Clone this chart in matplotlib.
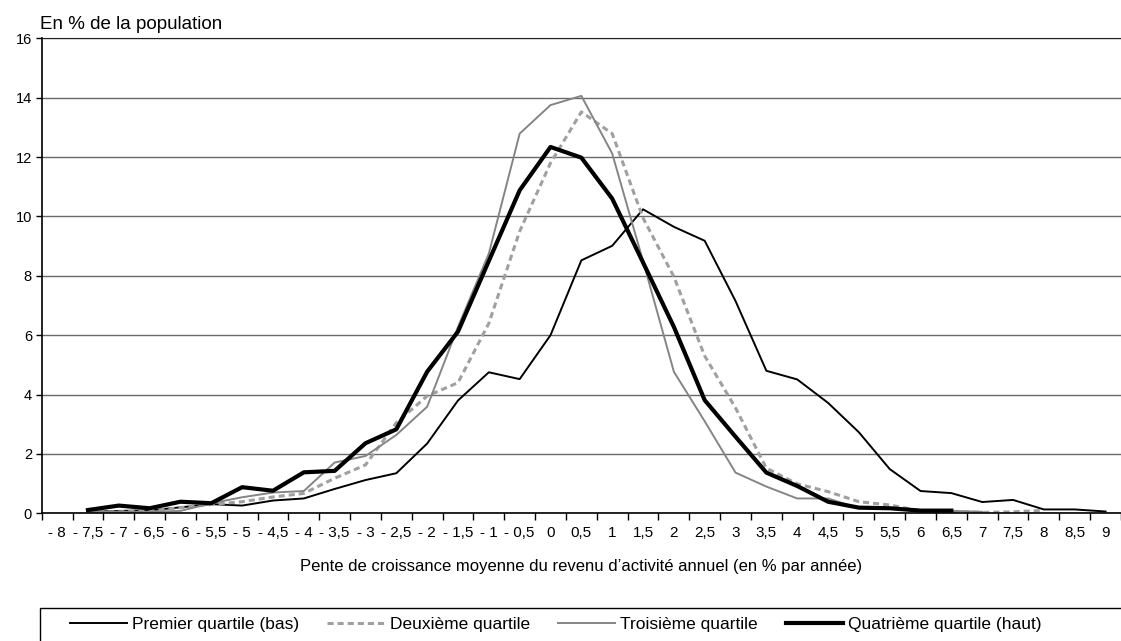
import numpy as np
import matplotlib
matplotlib.use("Agg")
import matplotlib.pyplot as plt
from matplotlib.patches import Rectangle

plt.rcParams['font.family'] = ['Liberation Sans', 'DejaVu Sans']

nan = np.nan
categories = ["- 8", "- 7,5", "- 7", "- 6,5", "- 6", "- 5,5", "- 5", "- 4,5", "- 4", "- 3,5",
              "- 3", "- 2,5", "- 2", "- 1,5", "- 1", "- 0,5", "0", "0,5", "1", "1,5",
              "2", "2,5", "3", "3,5", "4", "4,5", "5", "5,5", "6", "6,5",
              "7", "7,5", "8", "8,5", "9"]

premier = [nan, 0.05, 0.08, 0.10, 0.20, 0.31, 0.26, 0.43, 0.50, 0.82, 1.12, 1.35, 2.35, 3.80,
           4.75, 4.52, 6.00, 8.52, 9.01, 10.24, 9.65, 9.18, 7.15, 4.80, 4.51, 3.72, 2.73,
           1.49, 0.75, 0.68, 0.38, 0.45, 0.13, 0.13, 0.06]
deuxieme = [nan, 0.05, 0.05, 0.08, 0.19, 0.30, 0.39, 0.55, 0.67, 1.18, 1.63, 3.05, 3.95, 4.40,
            6.40, 9.50, 11.80, 13.52, 12.79, 9.95, 7.97, 5.30, 3.55, 1.52, 0.99, 0.73, 0.39,
            0.28, 0.08, 0.06, 0.03, 0.05, 0.10, nan, nan]
troisieme = [nan, 0.05, 0.05, 0.05, 0.08, 0.34, 0.54, 0.70, 0.75, 1.71, 1.93, 2.64, 3.59, 6.28,
             8.75, 12.79, 13.75, 14.06, 12.12, 8.50, 4.77, 3.10, 1.37, 0.90, 0.50, 0.50, 0.17,
             0.17, 0.08, 0.08, 0.05, nan, nan, nan, nan]
quatrieme = [nan, 0.11, 0.26, 0.17, 0.39, 0.34, 0.88, 0.76, 1.38, 1.43, 2.36, 2.83, 4.77, 6.12,
             8.50, 10.88, 12.34, 11.98, 10.60, 8.45, 6.28, 3.81, 2.58, 1.37, 0.92, 0.39, 0.19,
             0.17, 0.09, 0.09, nan, nan, nan, nan, nan]

W, H = 1121, 641
fig = plt.figure(figsize=(W / 100, H / 100), dpi=100)
ax = fig.add_axes([41.7 / W, 1 - 513.3 / H, 1 - 41.7 / W, (513.3 - 38.3) / H])

x = np.arange(len(categories))
ax.plot(x, premier, color='black', lw=1.4, label='Premier quartile (bas)')
ax.plot(x, deuxieme, color='#a0a0a0', lw=2.2, linestyle=(0, (2.0, 1.3)), label='Deuxième quartile')
ax.plot(x, troisieme, color='#858585', lw=1.4, label='Troisième quartile')
ax.plot(x, quatrieme, color='black', lw=3.0, label='Quatrième quartile (haut)')

ax.set_xlim(-0.5, 34.15)
ax.set_ylim(0, 16)
ax.set_yticks(range(0, 17, 2))
ax.tick_params(axis='y', length=4, width=1, labelsize=10.5, pad=3)
ax.yaxis.grid(True, color='#6a6a6a', lw=1)
ax.set_axisbelow(True)

ax.set_xticks(np.arange(-0.5, 35, 1))
ax.set_xticklabels([])
ax.set_xticks(x, minor=True)
ax.set_xticklabels(categories, minor=True)
ax.tick_params(axis='x', which='major', length=5, width=1)
ax.tick_params(axis='x', which='minor', length=0, labelsize=11, pad=9)

ax.spines['right'].set_visible(False)
ax.spines['top'].set_color('#222222')
for s in ['left', 'bottom']:
    ax.spines[s].set_linewidth(1.2)

fig.text(40.5 / W, 1 - 29 / H, "En % de la population", fontsize=13.5, va='baseline', ha='left')
fig.text(581 / W, 1 - 566 / H,
         "Pente de croissance moyenne du revenu d\u2019activité annuel (en % par année)",
         fontsize=12, ha='center', va='center')

fig.add_artist(Rectangle((40 / W, -0.05), 1.0, 0.05 + 1 - 607.7 / H, transform=fig.transFigure,
                         fill=False, edgecolor='black', lw=1, clip_on=False))
fig.legend(loc='center left', bbox_to_anchor=(70 / W, 1 - 624 / H), ncol=4, frameon=False,
           fontsize=12.5, handlelength=3.3, columnspacing=1.6, handletextpad=0.3,
           borderaxespad=0, borderpad=0)

fig.savefig("out.png", dpi=100)
